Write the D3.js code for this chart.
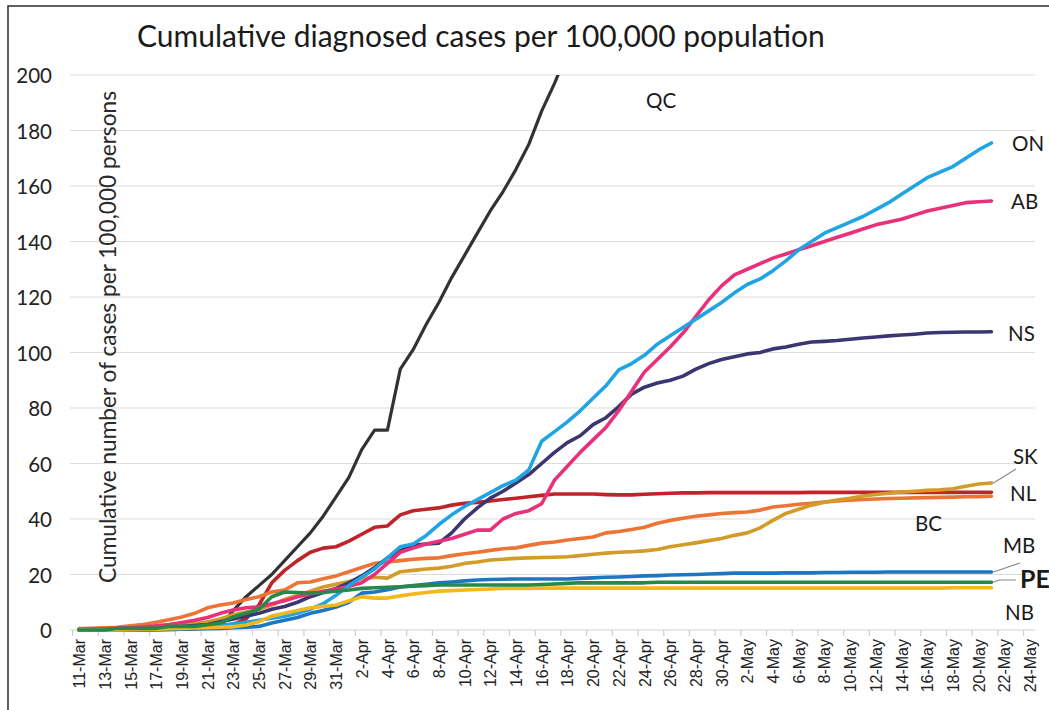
<!DOCTYPE html>
<html>
<head>
<meta charset="utf-8">
<script src="https://cdn.jsdelivr.net/npm/d3@7"></script>
<style>
  html, body { margin: 0; padding: 0; background: #fff; }
  svg { display: block; }
</style>
</head>
<body>
<svg id="chart" width="1049" height="710"></svg>
<script>
// ---------------- DATA ----------------
const startDate = "2020-03-11";   // first category (11-Mar)
const endDate = "2020-05-24";     // last axis category (24-May)
const yTicks = [0, 20, 40, 60, 80, 100, 120, 140, 160, 180, 200];

const QC = [0.1,0.1,0.2,0.2,0.3, 0.4,0.5,0.6,0.7,0.8, 0.9,1.2,7,12,16, 20,25,30,35,41, 48,55,65,72,72, 94,101,110,118,127, 135,143,151,158,166, 175,187,197,208,218];
const ON = [0,0,0.1,0.1,0.2, 0.3,0.4,0.5,0.7,0.9, 1.2,1.6,2.2,2.8,3.5, 4.2,5.0,6.0,7.5,9.5, 12.5,16.0,19.0,22.0,26, 30,31,34,38,41.5, 44.5,47,49.5,52,54, 57.7,68,71.5,75,79, 83.5,88,93.7,96,99, 103,106,109,112,115, 118,121.5,124.5,126.5,129.5, 133,137,140,143,145, 147,149,151.5,154,157, 160,163,165,167,170, 173,175.5];
const AB = [0.2,0.3,0.4,0.6,0.8, 1.1,1.5,2.0,2.7,3.5, 4.5,6.0,7.2,8.0,8.3, 9.5,10.5,12.0,13.0,14.0, 14.8,15.8,17.0,20.0,24.0, 28.0,29.5,31.0,32.0,33.0, 34.5,36.0,36.0,40.0,42.0, 43.0,45.5,54.0,59.0,64.0, 68.5,73.0,79.0,86.0,93.0, 97.5,102,107,113,119, 124,128,130,132,134, 135.5,137,138.5,140,141.5, 143,144.5,146,147,148, 149.5,151,152,153,154, 154.3,154.6];
const NS = [0,0,0,0.1,0.2, 0.4,0.6,0.9,1.2,1.6, 2.0,3.0,4.0,5.0,6.0, 7.5,8.5,10,12,13.5, 15,17,19.5,22.5,26, 28.5,30.5,31,31.3,35, 40,44,47.5,50,53, 56,60,64,67.5,70, 74,76.5,80.5,85,87.5, 89,90,91.5,94,96, 97.5,98.5,99.5,100,101.3, 102,103,103.8,104,104.3, 104.8,105.2,105.6,106,106.3, 106.6,107,107.2,107.3,107.4, 107.4,107.5];
const SK = [0.1,0.2,0.3,0.4,0.6, 0.8,1.0,1.3,1.8,2.4, 3.0,4.0,5.5,6.5,7.5, 9.0,11.0,12.5,14.0,15.5, 16.5,17.5,18.5,19.0,18.7, 21.0,21.5,22.0,22.3,23.0, 24.0,24.5,25.2,25.5,25.8, 26.0,26.1,26.2,26.4,26.8, 27.3,27.7,28.0,28.2,28.5, 29.0,30.0,30.7,31.4,32.2, 33.0,34.1,35.0,36.8,39.5, 42.0,43.5,45.0,46.0,46.8, 47.5,48.3,48.8,49.3,49.7, 50.0,50.3,50.5,50.9,51.8, 52.6,53.0];
const NL = [0,0,0,0,0, 0,0.1,0.2,0.3,0.5, 0.8,1.2,2.0,4.0,9.0, 17.0,21.5,25.0,28.0,29.5, 30.0,32.0,34.5,37.0,37.5, 41.5,43.0,43.5,44.0,45.0, 45.7,46.0,46.5,47.0,47.5, 48.0,48.5,49.0,49.0,49.0, 49.0,48.8,48.7,48.7,48.9, 49.1,49.3,49.4,49.4,49.5, 49.5,49.5,49.5,49.5,49.5, 49.5,49.5,49.6,49.6,49.6, 49.6,49.6,49.6,49.6,49.6, 49.6,49.6,49.6,49.6,49.6, 49.6,49.6];
const BC = [0.5,0.6,0.8,1.0,1.5, 2.0,2.8,3.7,4.7,6.0, 8.0,9.0,9.7,11.0,12.0, 13.7,14.4,17.0,17.3,18.5, 19.5,21.0,22.5,24.0,24.5, 25.0,25.5,25.8,26.0,26.8, 27.5,28.0,28.7,29.3,29.6, 30.5,31.3,31.7,32.4,33.0, 33.5,35.0,35.5,36.2,37.0, 38.5,39.5,40.3,41.0,41.5, 42.0,42.3,42.5,43.2,44.3, 44.8,45.3,45.7,46.1,46.5, 46.8,47.0,47.2,47.4,47.5, 47.6,47.7,47.8,47.9,48.0, 48.0,48.2];
const MB = [0,0,0,0,0, 0,0.1,0.2,0.3,0.4, 0.5,0.6,0.8,1.0,1.3, 2.5,3.5,4.5,6.0,7.0, 8.3,10.0,13.3,13.7,14.5, 15.5,16.0,16.5,17.0,17.3, 17.7,18.0,18.2,18.3,18.4, 18.4,18.4,18.4,18.4,18.6, 18.8,19.0,19.1,19.3,19.5, 19.6,19.8,19.9,20.0,20.2, 20.3,20.5,20.5,20.5,20.5, 20.6,20.6,20.6,20.7,20.7, 20.8,20.8,20.8,20.9,20.9, 20.9,20.9,20.9,20.9,20.9, 20.9,20.9];
const PE = [0,0,0,0.6,0.6, 0.6,0.6,1.3,1.3,1.3, 1.9,2.5,4.7,6.0,7.5, 12.0,13.7,13.5,13.3,13.5, 14.0,14.4,15.0,15.2,15.4, 15.6,15.8,16.0,16.2,16.2, 16.2,16.2,16.2,16.2,16.2, 16.2,16.4,16.6,16.8,17.0, 17.0,17.0,17.0,17.0,17.0, 17.2,17.2,17.2,17.2,17.2, 17.2,17.2,17.2,17.2,17.2, 17.2,17.2,17.2,17.2,17.2, 17.2,17.2,17.2,17.2,17.2, 17.2,17.2,17.2,17.2,17.2, 17.2,17.2];
const NB = [0,0,0,0,0.1, 0.2,0.3,0.5,0.6,0.7, 0.8,1.0,1.2,1.8,3.0, 5.0,6.0,7.0,8.0,8.5, 9.0,10.5,12.0,11.5,11.5, 12.3,13.0,13.5,14.0,14.2, 14.4,14.6,14.8,15.0,15.0, 15.0,15.1,15.1,15.1,15.1, 15.1,15.1,15.1,15.1,15.1, 15.1,15.1,15.1,15.1,15.1, 15.1,15.1,15.1,15.1,15.1, 15.1,15.1,15.1,15.1,15.1, 15.1,15.1,15.1,15.1,15.1, 15.1,15.1,15.1,15.2,15.2, 15.2,15.2];

const seriesNames = ["QC", "NL", "BC", "SK", "NS", "AB", "ON", "MB", "NB", "PE"];
const seriesValues = { QC, NL, BC, SK, NS, AB, ON, MB, NB, PE };
const seriesColors = { QC: "#323232", NL: "#c1232b", BC: "#ec7434", SK: "#d39b28", NS: "#3b3670",
                       AB: "#e9307a", ON: "#20a4e4", MB: "#1d76bf", NB: "#f4b71d", PE: "#27884a" };

// ---------------- CHART ----------------
const svg = d3.select("#chart");
const parse = d3.timeParse("%Y-%m-%d");
const t0 = parse(startDate), t1 = parse(endDate);

const x = d3.scaleTime().domain([t0, t1]).range([79, 1030]);
const y = d3.scaleLinear().domain([0, 200]).range([630, 75]);
const halfDay = (x(d3.timeDay.offset(t0, 1)) - x(t0)) / 2;

// frame
svg.append("rect").attr("x", 8).attr("y", 6).attr("width", 1200).attr("height", 900)
  .attr("fill", "none").attr("stroke", "#3a3a3a").attr("stroke-width", 1.6);

// gridlines
svg.append("g").selectAll("line").data(yTicks.filter(v => v > 0)).join("line")
  .attr("x1", 70).attr("x2", 1035)
  .attr("y1", d => y(d)).attr("y2", d => y(d))
  .attr("stroke", "#dcdcdc").attr("stroke-width", 1.2);

// y tick labels
svg.append("g").selectAll("text").data(yTicks).join("text")
  .attr("x", 52).attr("y", d => y(d))
  .attr("text-anchor", "end").attr("dominant-baseline", "central")
  .attr("font-family", "Lato, 'Open Sans', sans-serif").attr("font-size", 20.5)
  .attr("fill", "#222").text(d => d);

// x axis
const tickDates = d3.timeDay.every(1).range(t0, d3.timeDay.offset(t1, 1)).filter((d, i) => i % 2 === 0);
const fmt = d3.timeFormat("%-d-%b");
const xAxis = d3.axisBottom(x).tickValues(tickDates).tickFormat(fmt).tickSize(0).tickPadding(10);
const gx = svg.append("g").attr("transform", "translate(0,630)").call(xAxis);
gx.select(".domain").attr("stroke", "#d0d0d0").attr("stroke-width", 1.2)
  .attr("d", "M70,0H1035");
gx.selectAll(".tick text")
  .attr("font-family", "'Liberation Sans', Arial, sans-serif").attr("font-size", 16).attr("fill", "#222")
  .attr("text-anchor", "end").attr("dy", "0.35em")
  .attr("transform", "rotate(-90)").attr("x", -9).attr("y", 0);
// tick marks halfway between categories
gx.append("g").selectAll("line").data(tickDates).join("line")
  .attr("x1", d => x(d) - halfDay).attr("x2", d => x(d) - halfDay)
  .attr("y1", 0).attr("y2", 6).attr("stroke", "#cfcfcf").attr("stroke-width", 1.2);

// clip
svg.append("clipPath").attr("id", "plotclip").append("rect")
  .attr("x", 60).attr("y", 75).attr("width", 990).attr("height", 600);

// lines
const line = d3.line()
  .x((d, i) => x(d3.timeDay.offset(t0, i)))
  .y(d => y(d));
const lg = svg.append("g").attr("clip-path", "url(#plotclip)");
seriesNames.forEach(name => {
  lg.append("path").datum(seriesValues[name])
    .attr("fill", "none").attr("stroke", seriesColors[name])
    .attr("stroke-width", name === "QC" ? 3.2 : 3.6)
    .attr("stroke-linejoin", "round").attr("stroke-linecap", "round")
    .attr("d", line);
});

// title
const title = svg.append("text").attr("x", 137).attr("y", 47)
  .attr("font-family", "Lato, 'Open Sans', sans-serif").attr("font-size", 27).attr("fill", "#1a1a1a")
  .text("Cumulative diagnosed cases per 100,000 population");
(function fit(t, w) { const l = t.node().getComputedTextLength(); t.attr("font-size", 27 * w / l); })(title, 688);

// y-axis title
const yt = svg.append("text").attr("transform", "translate(107,337) rotate(-90)")
  .attr("text-anchor", "middle").attr("dominant-baseline", "central")
  .attr("font-family", "Lato, 'Open Sans', sans-serif").attr("font-size", 19).attr("fill", "#2a2a2a")
  .text("Cumulative number of cases per 100,000 persons");
(function fit(t, w) { const l = t.node().getComputedTextLength(); t.attr("font-size", 19 * w / l); })(yt, 492);

// series labels
const labelPos = [
  { n: "QC", x: 646, y: 100 }, { n: "ON", x: 1012, y: 143 }, { n: "AB", x: 1011, y: 201 },
  { n: "NS", x: 1008, y: 333 }, { n: "SK", x: 1013, y: 456 }, { n: "NL", x: 1010, y: 493 },
  { n: "BC", x: 915, y: 523 }, { n: "MB", x: 1003, y: 545 }, { n: "PE", x: 1020, y: 578, bold: true },
  { n: "NB", x: 1005, y: 612 }
];
svg.append("g").selectAll("text").data(labelPos).join("text")
  .attr("x", d => d.x).attr("y", d => d.y).attr("dominant-baseline", "central")
  .attr("font-family", "Lato, 'Open Sans', sans-serif")
  .attr("font-size", d => d.bold ? 25 : 20.5).attr("font-weight", d => d.bold ? "bold" : "normal")
  .attr("fill", "#1a1a1a").text(d => d.n);

// leader lines
const last = arr => arr[arr.length - 1];
const xe = x(d3.timeDay.offset(t0, SK.length - 1));
const leaders = [
  [[xe + 2, y(last(SK))], [1016, 469]],
  [[xe + 2, y(last(MB))], [1020, 563]],
  [[xe + 2, y(last(PE))], [999, 580], [1016, 580]]
];
svg.append("g").selectAll("path").data(leaders).join("path")
  .attr("d", d => d3.line()(d)).attr("fill", "none")
  .attr("stroke", "#8a8a8a").attr("stroke-width", 1.2);
</script>
</body>
</html>
